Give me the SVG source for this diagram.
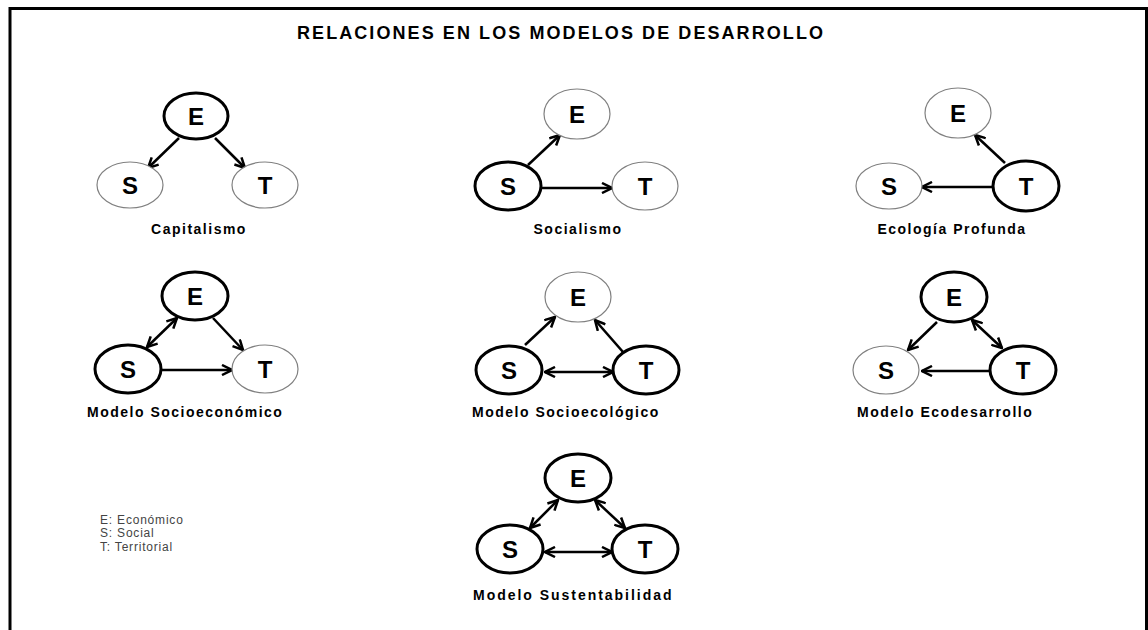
<svg xmlns="http://www.w3.org/2000/svg" width="1148" height="630" viewBox="0 0 1148 630">
<style>
.bg{fill:#ffffff}
.frame{fill:none;stroke:#000;stroke-width:3}
.thick{fill:#fff;stroke:#000;stroke-width:3}
.thin{fill:#fff;stroke:#808080;stroke-width:1.2}
.ltr{font-family:"Liberation Sans",Arial,sans-serif;font-weight:bold;font-size:24px;fill:#000;text-anchor:middle}
.lbl{font-family:"Liberation Sans",Arial,sans-serif;font-weight:bold;font-size:14px;fill:#000;letter-spacing:1.5px}
.mid{text-anchor:middle}
.title{font-family:"Liberation Sans",Arial,sans-serif;font-weight:bold;font-size:18px;fill:#000}
.leg{font-family:"Liberation Sans",Arial,sans-serif;font-size:12px;fill:#444;letter-spacing:0.8px}
.c line{stroke:#000;stroke-width:2.5;marker-end:url(#ah)}
.c line.b{marker-start:url(#ah)}
</style>
<defs>
<marker id="ah" viewBox="0 0 12 12" refX="11" refY="6" markerWidth="12" markerHeight="12" orient="auto-start-reverse" markerUnits="userSpaceOnUse">
<path d="M1,1 L11,6 L1,11" fill="none" stroke="#000" stroke-width="2.5"/>
</marker>
</defs>
<rect class="bg" x="0" y="0" width="1148" height="630"/>
<path class="frame" d="M10,630 V8.5 H1146.5 V630"/>
<text class="title" x="297" y="39" textLength="526" lengthAdjust="spacing">RELACIONES EN LOS MODELOS DE DESARROLLO</text>

<g class="c" id="connectors">
<line x1="179" y1="138" x2="148" y2="168"/>
<line x1="215" y1="138" x2="245" y2="168"/>
<line x1="528" y1="165" x2="560" y2="135"/>
<line x1="542" y1="188" x2="612" y2="188"/>
<line x1="1005" y1="163" x2="975" y2="135"/>
<line x1="992" y1="187" x2="922" y2="187"/>
<line class="b" x1="177" y1="318" x2="147" y2="347"/>
<line x1="213" y1="318" x2="243" y2="350"/>
<line x1="160" y1="370" x2="232" y2="370"/>
<line x1="525" y1="345" x2="555" y2="317"/>
<line x1="623" y1="352" x2="595" y2="320"/>
<line class="b" x1="545" y1="372" x2="613" y2="372"/>
<line x1="937" y1="322" x2="908" y2="350"/>
<line class="b" x1="972" y1="320" x2="1002" y2="348"/>
<line x1="990" y1="371" x2="922" y2="371"/>
<line class="b" x1="530" y1="528" x2="558" y2="500"/>
<line class="b" x1="595" y1="500" x2="625" y2="528"/>
<line class="b" x1="545" y1="552" x2="612" y2="552"/>
</g>

<g id="capitalismo">
<g id="cap-E"><ellipse class="thick" cx="196" cy="116" rx="32" ry="23"/><text class="ltr" x="196" y="124.5">E</text></g>
<g id="cap-S"><ellipse class="thin" cx="130" cy="185" rx="33" ry="23"/><text class="ltr" x="130" y="193.5">S</text></g>
<g id="cap-T"><ellipse class="thin" cx="265" cy="185" rx="33" ry="23"/><text class="ltr" x="265" y="193.5">T</text></g>
<text class="lbl mid" x="199" y="234">Capitalismo</text>
</g>

<g id="socialismo">
<g id="soc-E"><ellipse class="thin" cx="577" cy="114" rx="33" ry="25"/><text class="ltr" x="577" y="122.5">E</text></g>
<g id="soc-S"><ellipse class="thick" cx="508" cy="186" rx="33" ry="24"/><text class="ltr" x="508" y="194.5">S</text></g>
<g id="soc-T"><ellipse class="thin" cx="645" cy="186" rx="33" ry="24"/><text class="ltr" x="645" y="194.5">T</text></g>
<text class="lbl mid" x="578" y="234">Socialismo</text>
</g>

<g id="ecologia">
<g id="eco-E"><ellipse class="thin" cx="958" cy="113" rx="33" ry="25"/><text class="ltr" x="958" y="121.5">E</text></g>
<g id="eco-S"><ellipse class="thin" cx="889" cy="186" rx="33" ry="23"/><text class="ltr" x="889" y="194.5">S</text></g>
<g id="eco-T"><ellipse class="thick" cx="1026" cy="186" rx="33" ry="25"/><text class="ltr" x="1026" y="194.5">T</text></g>
<text class="lbl mid" x="952" y="234">Ecología Profunda</text>
</g>

<g id="socioeconomico">
<g id="se-E"><ellipse class="thick" cx="195" cy="296" rx="33" ry="24"/><text class="ltr" x="195" y="304.5">E</text></g>
<g id="se-S"><ellipse class="thick" cx="128" cy="369" rx="33" ry="24"/><text class="ltr" x="128" y="377.5">S</text></g>
<g id="se-T"><ellipse class="thin" cx="265" cy="369" rx="33" ry="24"/><text class="ltr" x="265" y="377.5">T</text></g>
<text class="lbl" x="87" y="417">Modelo Socioeconómico</text>
</g>

<g id="socioecologico">
<g id="sg-E"><ellipse class="thin" cx="578" cy="297" rx="33" ry="25"/><text class="ltr" x="578" y="305.5">E</text></g>
<g id="sg-S"><ellipse class="thick" cx="509" cy="370" rx="33" ry="24"/><text class="ltr" x="509" y="378.5">S</text></g>
<g id="sg-T"><ellipse class="thick" cx="646" cy="370" rx="33" ry="24"/><text class="ltr" x="646" y="378.5">T</text></g>
<text class="lbl" x="472" y="417">Modelo Socioecológico</text>
</g>

<g id="ecodesarrollo">
<g id="ed-E"><ellipse class="thick" cx="954" cy="297" rx="33" ry="25"/><text class="ltr" x="954" y="305.5">E</text></g>
<g id="ed-S"><ellipse class="thin" cx="886" cy="370" rx="33" ry="24"/><text class="ltr" x="886" y="378.5">S</text></g>
<g id="ed-T"><ellipse class="thick" cx="1023" cy="370" rx="33" ry="24"/><text class="ltr" x="1023" y="378.5">T</text></g>
<text class="lbl" x="857" y="417">Modelo Ecodesarrollo</text>
</g>

<g id="sustentabilidad">
<g id="su-E"><ellipse class="thick" cx="578" cy="478" rx="33" ry="24"/><text class="ltr" x="578" y="486.5">E</text></g>
<g id="su-S"><ellipse class="thick" cx="510" cy="549" rx="33" ry="24"/><text class="ltr" x="510" y="557.5">S</text></g>
<g id="su-T"><ellipse class="thick" cx="645" cy="549" rx="33" ry="24"/><text class="ltr" x="645" y="557.5">T</text></g>
<text class="lbl" x="473" y="600" textLength="200" lengthAdjust="spacing">Modelo Sustentabilidad</text>
</g>

<g id="legend">
<text class="leg" x="100" y="524">E: Económico</text>
<text class="leg" x="100" y="537">S: Social</text>
<text class="leg" x="100" y="551">T: Territorial</text>
</g>
</svg>
